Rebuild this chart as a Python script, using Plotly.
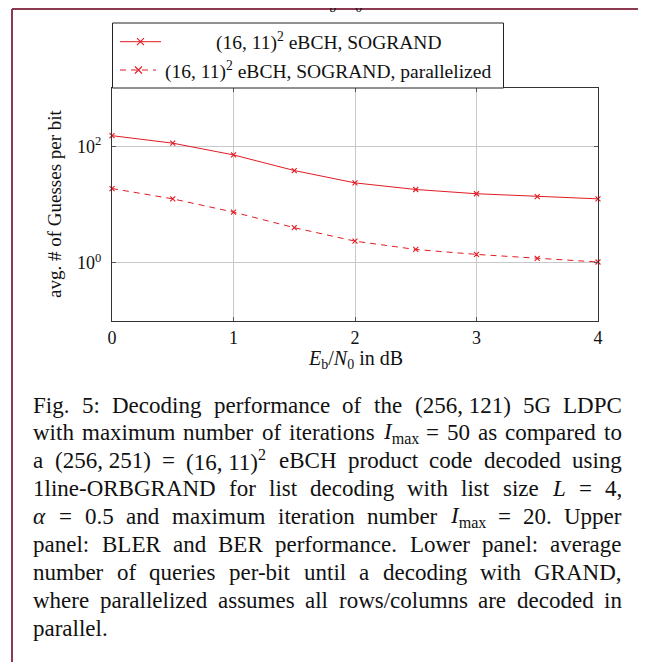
import re
import plotly.graph_objects as go

# ---------------- data ----------------
EBN0_DB = [0, 0.5, 1, 1.5, 2, 2.5, 3, 3.5, 4]
GUESSES_SOGRAND = [152, 113, 71, 38.3, 23.5, 18.1, 15.3, 13.7, 12.5]
GUESSES_PARALLEL = [18.8, 12.5, 7.4, 4.0, 2.35, 1.69, 1.39, 1.19, 1.03]
SERIES_NAMES = ["(16, 11)<sup>2</sup> eBCH, SOGRAND",
                "(16, 11)<sup>2</sup> eBCH, SOGRAND, parallelized"]
X_TICKS = [0, 1, 2, 3, 4]
X_TICK_LABELS = ["0", "1", "2", "3", "4"]
Y_TICKS = [1, 100]
Y_TICK_LABELS = ["10<sup>0</sup>", "10<sup>2</sup>"]
X_TITLE = "<i>E</i><sub>b</sub>/<i>N</i><sub>0</sub> in dB"
Y_TITLE = "avg. # of Guesses per bit"
CAPTION_LINES = [
    "Fig. 5: Decoding performance of the (256,~121) 5G LDPC",
    "with maximum number of iterations <i>I</i><sub>max</sub> = 50 as compared to",
    "a (256,~251) = (16,~11)<sup>2</sup> eBCH product code decoded using",
    "1line-ORBGRAND for list decoding with list size <i>L</i> = 4,",
    "<i>α</i> = 0.5 and maximum iteration number <i>I</i><sub>max</sub> = 20. Upper",
    "panel: BLER and BER performance. Lower panel: average",
    "number of queries per-bit until a decoding with GRAND,",
    "where parallelized assumes all rows/columns are decoded in",
    "parallel.",
]

# ---------------- layout constants (page pixels) ----------------
PAGE_W, PAGE_H = 646, 662
BODY = 8                      # default page margin around the plot div
PL, PR, PT, PB = 112, 598, 88, 321
RED = "#e31b23"
MAROON = "#8b3a52"
FONT = "Liberation Serif"


def fx(px):
    return (px - PL) / (PR - PL)


def fy(py):
    return (PB - py) / (PB - PT)


# Times metrics (1/1000 em) for justification
W = {' ': 250, '!': 333, '#': 500, '(': 333, ')': 333, ',': 250, '-': 333, '.': 250,
     '/': 278, ':': 278, '=': 564, 'α': 600,
     'A': 722, 'B': 667, 'C': 667, 'D': 722, 'E': 611, 'F': 556, 'G': 722, 'H': 722,
     'I': 333, 'J': 389, 'K': 722, 'L': 611, 'M': 889, 'N': 722, 'O': 722, 'P': 556,
     'Q': 722, 'R': 667, 'S': 556, 'T': 611, 'U': 722, 'V': 722, 'W': 944, 'X': 722,
     'Y': 722, 'Z': 611,
     'a': 444, 'b': 500, 'c': 444, 'd': 500, 'e': 444, 'f': 333, 'g': 500, 'h': 500,
     'i': 278, 'j': 278, 'k': 500, 'l': 278, 'm': 778, 'n': 500, 'o': 500, 'p': 500,
     'q': 500, 'r': 333, 's': 389, 't': 278, 'u': 500, 'v': 500, 'w': 722, 'x': 500,
     'y': 500, 'z': 444}


def text_width(html, size):
    total, scale = 0.0, 1.0
    for tok in re.split(r'(<[^>]+>)', html):
        if tok.startswith('<'):
            if tok in ('<sub>', '<sup>'):
                scale = 0.7
            elif tok in ('</sub>', '</sup>'):
                scale = 1.0
            continue
        for ch in tok.replace('~', ' '):
            total += W.get(ch, 500) * scale
    return total * size / 1000.0


fig = go.Figure()
fig.add_trace(go.Scatter(
    x=EBN0_DB, y=GUESSES_SOGRAND, mode="lines+markers", name=SERIES_NAMES[0],
    line=dict(color=RED, width=1),
    marker=dict(symbol="x-thin", size=5, line=dict(color=RED, width=1.1), color=RED),
    cliponaxis=False, showlegend=False))
fig.add_trace(go.Scatter(
    x=EBN0_DB, y=GUESSES_PARALLEL, mode="lines+markers", name=SERIES_NAMES[1],
    line=dict(color=RED, width=1, dash="6px,5px"),
    marker=dict(symbol="x-thin", size=5, line=dict(color=RED, width=1.1), color=RED),
    cliponaxis=False, showlegend=False))

axis_common = dict(showgrid=True, gridcolor="#c8c8c8", gridwidth=1, zeroline=False,
                   showline=True, linecolor="#333333", linewidth=1, mirror="ticks",
                   ticks="inside", ticklen=4, tickcolor="#555555",
                   tickfont=dict(family=FONT, size=18, color="#111"))
fig.update_xaxes(range=[0, 4], tickvals=X_TICKS, ticktext=X_TICK_LABELS,
                 ticklabelstandoff=0, **axis_common)
fig.update_yaxes(type="log", range=[-1, 3], tickvals=Y_TICKS, ticktext=Y_TICK_LABELS,
                 ticklabelstandoff=6, **axis_common)

shapes = []
ann = []
# page border
shapes.append(dict(type="line", xref="paper", yref="paper", x0=fx(12), x1=fx(660),
                   y0=fy(9), y1=fy(9), line=dict(color=MAROON, width=2)))
shapes.append(dict(type="line", xref="paper", yref="paper", x0=fx(12), x1=fx(12),
                   y0=fy(9), y1=fy(680), line=dict(color=MAROON, width=2)))

# legend
shapes.append(dict(type="rect", xref="paper", yref="paper", x0=fx(112.5), x1=fx(503.5),
                   y0=fy(23), y1=fy(88), line=dict(color="#222", width=1),
                   fillcolor="white"))
rows = [(41.7, "solid", 120, 161, 140.5), (70, "dash", 120, 156, 138.5)]
for (ry, dash, x0, x1, mx), name in zip(rows, SERIES_NAMES):
    shapes.append(dict(type="line", xref="paper", yref="paper", x0=fx(x0), x1=fx(x1),
                       y0=fy(ry), y1=fy(ry),
                       line=dict(color=RED, width=1, dash="solid" if dash == "solid" else "6px,5px")))
    r = 3.5
    shapes.append(dict(type="path", xref="paper", yref="paper",
                       path=f"M {fx(mx-r)},{fy(ry-r)} L {fx(mx+r)},{fy(ry+r)} "
                            f"M {fx(mx-r)},{fy(ry+r)} L {fx(mx+r)},{fy(ry-r)}",
                       line=dict(color=RED, width=1.1)))
    ann.append(dict(text=name, xref="paper", yref="paper", x=fx(328), y=fy(ry),
                    xanchor="center", yanchor="middle", showarrow=False,
                    font=dict(family=FONT, size=19.5, color="#111")))

# axis titles
ann.append(dict(text=Y_TITLE, xref="paper", yref="paper", x=fx(54), y=fy(204),
                xanchor="center", yanchor="middle", textangle=-90, showarrow=False,
                font=dict(family=FONT, size=19, color="#111")))
ann.append(dict(text=X_TITLE, xref="paper", yref="paper", x=fx(355), y=fy(359),
                xanchor="center", yanchor="middle", showarrow=False,
                font=dict(family=FONT, size=20, color="#111")))
# cut-off title of the upper panel at the very top
ann.append(dict(text=X_TITLE, xref="paper", yref="paper", x=fx(363), y=fy(3),
                xanchor="center", yanchor="middle", showarrow=False,
                font=dict(family=FONT, size=20, color="#111")))

# caption, justified
CX0, CX1 = 33, 622
CY0, CDY = 405, 27.9
CSIZE = 23
for i, line in enumerate(CAPTION_LINES):
    words = line.split(" ")
    yy = fy(CY0 + CDY * i)
    widths = [text_width(w, CSIZE) for w in words]
    last = (i == len(CAPTION_LINES) - 1)
    if last or len(words) == 1:
        gap = text_width(" ", CSIZE)
    else:
        gap = (CX1 - CX0 - sum(widths)) / (len(words) - 1)
    x = CX0
    for j, (w, wd) in enumerate(zip(words, widths)):
        txt = w.replace("~", " ")
        if (not last) and j == len(words) - 1 and len(words) > 1:
            ann.append(dict(text=txt, xref="paper", yref="paper", x=fx(CX1), y=yy,
                            xanchor="right", yanchor="middle", showarrow=False,
                            borderpad=0, borderwidth=0,
                            font=dict(family=FONT, size=CSIZE, color="#111")))
        else:
            ann.append(dict(text=txt, xref="paper", yref="paper", x=fx(x), y=yy,
                            xanchor="left", yanchor="middle", showarrow=False,
                            borderpad=0, borderwidth=0,
                            font=dict(family=FONT, size=CSIZE, color="#111")))
        x += wd + gap

# the plot div sits BODY px inside the page; size and margins compensate
fig.update_layout(
    width=PAGE_W - BODY, height=PAGE_H - BODY, autosize=False,
    margin=dict(l=PL - BODY, r=PAGE_W - PR, t=PT - BODY, b=PAGE_H - PB, pad=0),
    paper_bgcolor="white", plot_bgcolor="white",
    font=dict(family=FONT, color="#111"),
    shapes=shapes, annotations=ann, showlegend=False,
)

fig.write_html("out.html")
